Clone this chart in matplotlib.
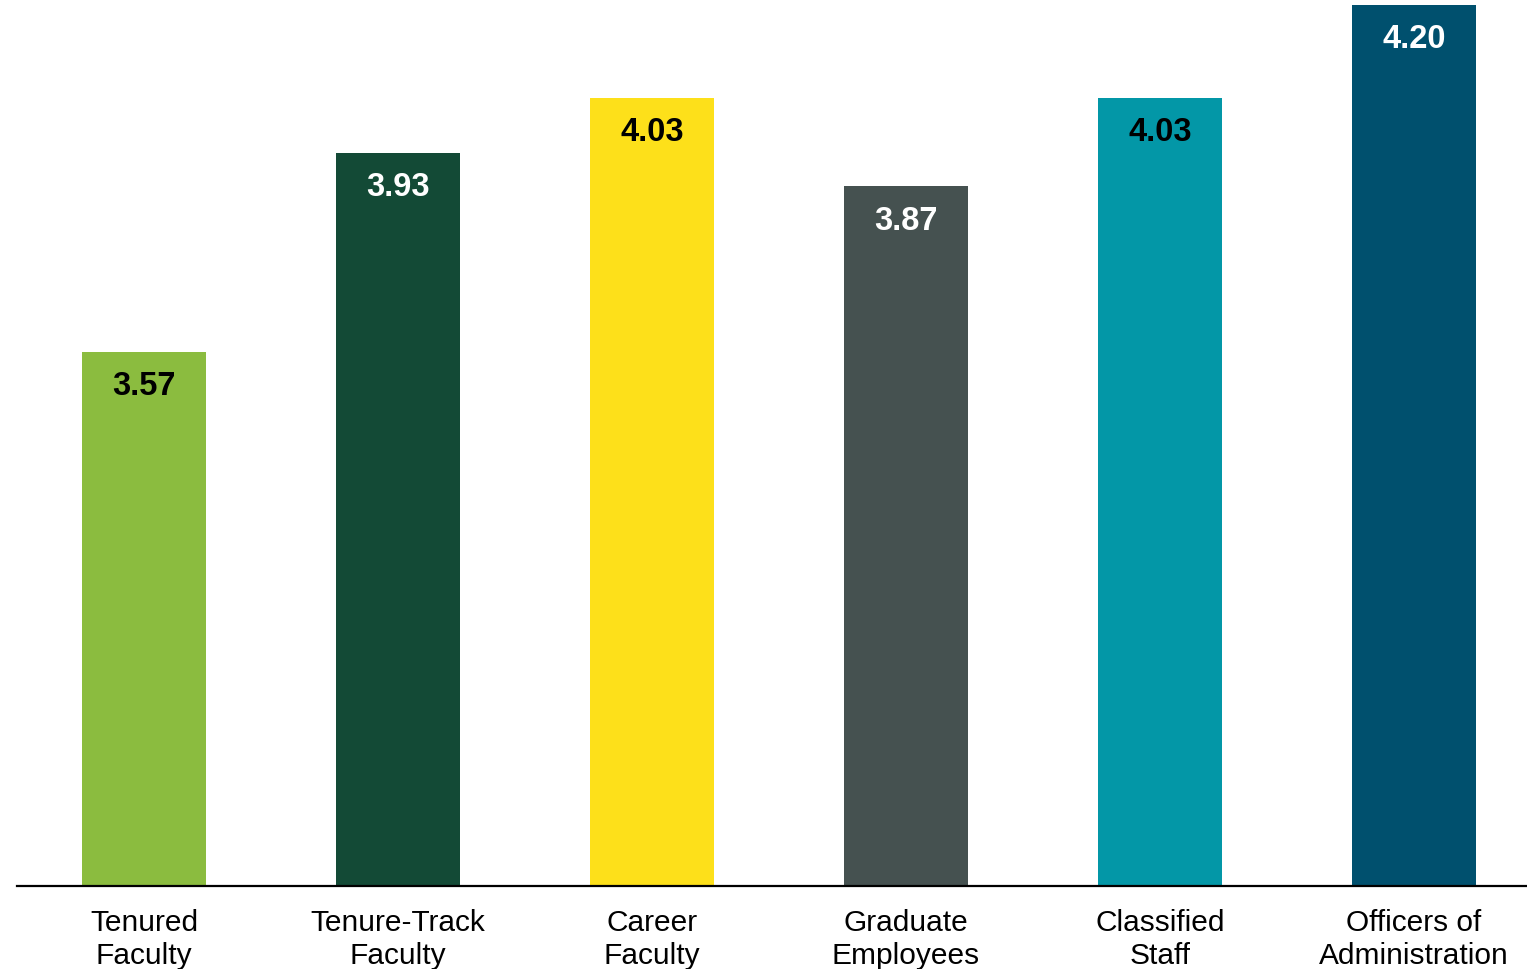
import matplotlib.pyplot as plt

categories = ["Tenured\nFaculty", "Tenure-Track\nFaculty", "Career\nFaculty",
              "Graduate\nEmployees", "Classified\nStaff", "Officers of\nAdministration"]
values = [3.57, 3.93, 4.03, 3.87, 4.03, 4.20]
colors = ["#8BBC3F", "#134A36", "#FDE01A", "#455150", "#0397A7", "#00506E"]
label_colors = ["black", "white", "black", "white", "black", "white"]

plt.rcParams["font.family"] = ["Liberation Sans", "DejaVu Sans"]

W, H = 1527, 970
fig = plt.figure(figsize=(W / 100, H / 100), dpi=100)
# axes placed in pixel terms: left edge x=17, baseline y=887, top at y=0
ax = fig.add_axes([17 / W, 83 / H, 1510 / W, 887 / H])

x = range(len(values))
ax.bar(x, values, width=0.49, color=colors)
ax.set_xlim(-0.5, -0.5 + 1510 / 254)
ax.set_ylim(2.6, 2.6 + 887 / 550.8)

for i, v in enumerate(values):
    ax.annotate(f"{v:.2f}", xy=(i, v), xytext=(0, -13), textcoords="offset points",
                ha="center", va="top", fontsize=23.5, fontweight="bold",
                color=label_colors[i])

ax.set_xticks(list(x))
ax.set_xticklabels(categories, fontsize=21.5, linespacing=1.2)
ax.tick_params(axis="x", length=0, pad=16)
ax.set_yticks([])
for s in ["top", "right", "left"]:
    ax.spines[s].set_visible(False)
ax.spines["bottom"].set_linewidth(1.6)

fig.savefig("out.png", dpi=100)
